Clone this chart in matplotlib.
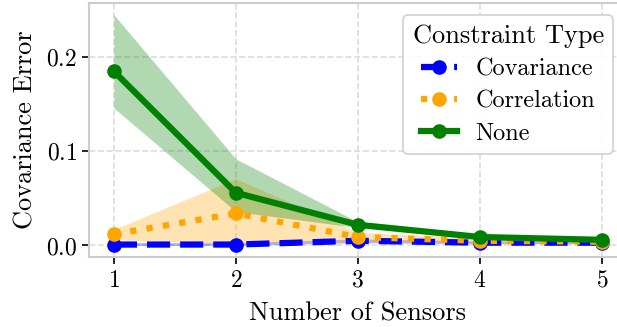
import numpy as np
import matplotlib
matplotlib.use("Agg")
import matplotlib.pyplot as plt

plt.rcParams['font.family'] = 'serif'
plt.rcParams['font.serif'] = ['cmr10', 'DejaVu Serif']
plt.rcParams['mathtext.fontset'] = 'cm'
plt.rcParams['axes.formatter.use_mathtext'] = True

sensors = [1, 2, 3, 4, 5]

# mean error and band limits per constraint type
cov_mean = [0.001, 0.001, 0.005, 0.003, 0.003]
cov_low = [0.000, 0.000, 0.003, 0.002, 0.002]
cov_high = [0.003, 0.003, 0.007, 0.005, 0.004]

corr_mean = [0.012, 0.034, 0.009, 0.005, 0.004]
corr_low = [0.006, 0.002, 0.004, 0.002, 0.002]
corr_high = [0.017, 0.071, 0.014, 0.008, 0.006]

none_mean = [0.185, 0.056, 0.022, 0.009, 0.006]
none_low = [0.146, 0.036, 0.019, 0.007, 0.005]
none_high = [0.245, 0.092, 0.025, 0.011, 0.007]

fig, ax = plt.subplots(figsize=(6.17, 3.27), dpi=100)
fig.subplots_adjust(left=0.145, right=1.015, bottom=0.214, top=0.99)

series = [
    ("Covariance", cov_mean, cov_low, cov_high, "blue", "--"),
    ("Correlation", corr_mean, corr_low, corr_high, "orange", ":"),
    ("None", none_mean, none_low, none_high, "green", "-"),
]
for name, mean, low, high, color, ls in series:
    ax.fill_between(sensors, low, high, color=color, alpha=0.3, linewidth=0)
    ax.plot(sensors, mean, color=color, linestyle=ls, linewidth=4.5,
            marker="o", markersize=9.5, label=name)

ax.set_xticks(sensors)
ax.set_yticks([0.0, 0.1, 0.2])
ax.set_xlabel("Number of Sensors", fontsize=19, labelpad=7)
ax.set_ylabel("Covariance Error", fontsize=19, labelpad=6)
ax.tick_params(labelsize=17, length=5, width=1.2, color="black", pad=4)
ax.grid(True, linestyle="--", color="#dddddd", linewidth=1.2)
ax.set_axisbelow(True)
for sp in ax.spines.values():
    sp.set_color("#cccccc")
    sp.set_linewidth(1.5)

leg = ax.legend(title="Constraint Type", fontsize=17.5, title_fontsize=19,
                loc="upper right", bbox_to_anchor=(613 / 617, 1 - 15 / 327),
                bbox_transform=fig.transFigure, framealpha=0.9,
                edgecolor="#cccccc", handlelength=1.5, handletextpad=0.75,
                labelspacing=0.42, borderpad=0.38, borderaxespad=0)
leg.get_frame().set_linewidth(1.2)

fig.savefig("out.png", dpi=100)
